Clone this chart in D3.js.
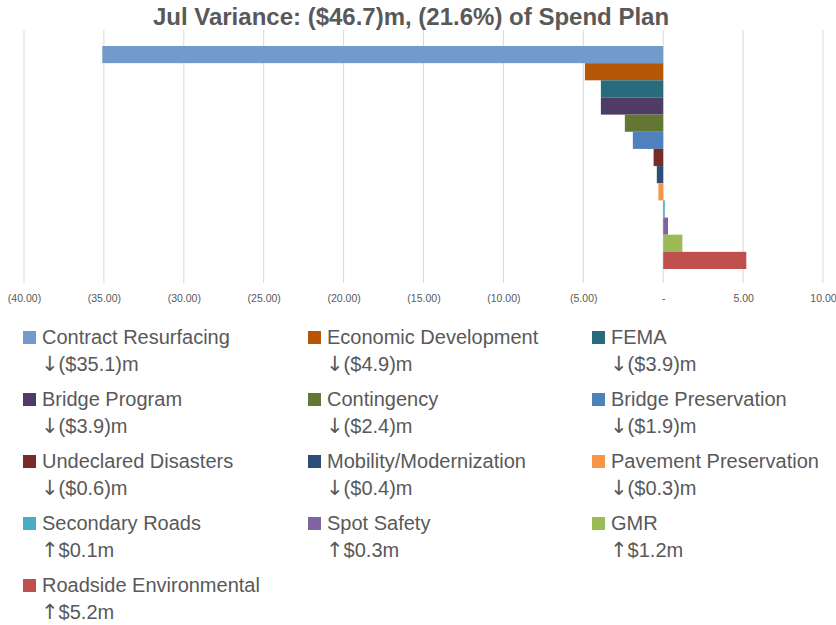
<!DOCTYPE html>
<html>
<head>
<meta charset="utf-8">
<script src="https://cdn.jsdelivr.net/npm/d3@7"></script>
<style>
  html, body { margin: 0; padding: 0; background: #fff; }
  svg { display: block; }
</style>
</head>
<body>
<svg id="chart" width="836" height="625"></svg>
<script>
// Program categories, top to bottom
const categories = [
  "Contract Resurfacing", "Economic Development", "FEMA",
  "Bridge Program", "Contingency", "Bridge Preservation",
  "Undeclared Disasters", "Mobility/Modernization", "Pavement Preservation",
  "Secondary Roads", "Spot Safety", "GMR",
  "Roadside Environmental"
];
// July variance against spend plan, $ millions
const variance = [-35.1, -4.9, -3.9, -3.9, -2.4, -1.9, -0.6, -0.4, -0.3, 0.1, 0.3, 1.2, 5.2];
const colors = [
  "#729ACB", "#B65708", "#276B7C",
  "#4E3C64", "#637633", "#4F81BD",
  "#772C2A", "#2C4D75", "#F79646",
  "#4BACC6", "#8064A2", "#9BBB59",
  "#C0504D"
];
const tickValues = [-40, -35, -30, -25, -20, -15, -10, -5, 0, 5, 10];
const titleText = "Jul Variance: ($46.7)m, (21.6%) of Spend Plan";

const svg = d3.select("#chart");
const textColor = "#595959";

// Title
svg.append("text")
  .attr("x", 411).attr("y", 25)
  .attr("text-anchor", "middle")
  .attr("font-family", "'Liberation Sans', Arial, sans-serif")
  .attr("font-weight", "bold")
  .attr("font-size", 24)
  .attr("fill", textColor)
  .text(titleText);

// Scales
const x = d3.scaleLinear().domain([-40, 10]).range([24, 823]);
const y = d3.scaleBand().domain(categories).range([46, 269]).padding(0);

// Gridlines
const plotTop = 30, plotBottom = 283;
svg.append("g")
  .selectAll("line")
  .data(tickValues)
  .join("line")
  .attr("x1", d => x(d)).attr("x2", d => x(d))
  .attr("y1", plotTop).attr("y2", plotBottom)
  .attr("stroke", "#D9D9D9")
  .attr("stroke-width", 1);

// Bars
svg.append("g")
  .selectAll("rect")
  .data(categories)
  .join("rect")
  .attr("x", (d, i) => Math.min(x(0), x(variance[i])))
  .attr("width", (d, i) => Math.abs(x(variance[i]) - x(0)))
  .attr("y", d => y(d))
  .attr("height", y.bandwidth())
  .attr("fill", (d, i) => colors[i]);

// Tick labels (accounting format)
const fmtTick = v => v === 0 ? "-" : (v < 0 ? "(" + d3.format(".2f")(-v) + ")" : d3.format(".2f")(v));
const axis = d3.axisBottom(x).tickValues(tickValues).tickSize(0).tickFormat(fmtTick);
const axisG = svg.append("g")
  .attr("transform", `translate(0, ${plotBottom})`)
  .call(axis);
axisG.select(".domain").remove();
axisG.selectAll("text")
  .attr("dy", 0)
  .attr("y", 19)
  .attr("fill", textColor)
  .attr("font-family", "'Liberation Sans', Arial, sans-serif")
  .attr("font-size", 10.5);

// Legend: three columns, name plus arrow and value
const arrowOf = v => v < 0 ? "\u2193" : "\u2191";
const fmtVal = v => v < 0 ? "($" + d3.format(".1f")(-v) + ")m" : "$" + d3.format(".1f")(v) + "m";
const colX = [23, 308, 592];
const rowY = [331, 393, 455, 517, 579];
const legend = svg.append("g")
  .attr("font-family", "'Liberation Sans', Arial, sans-serif")
  .attr("font-size", 20)
  .attr("fill", textColor);
const items = legend.selectAll("g")
  .data(categories)
  .join("g")
  .attr("transform", (d, i) => `translate(${colX[i % 3]}, ${rowY[Math.floor(i / 3)]})`);
items.append("rect")
  .attr("x", 0).attr("y", 0)
  .attr("width", 13).attr("height", 13)
  .attr("fill", (d, i) => colors[i]);
items.append("text")
  .attr("x", 19).attr("y", 13)
  .text(d => d);
const valText = items.append("text")
  .attr("x", 18).attr("y", 40);
valText.append("tspan")
  .attr("font-family", "'DejaVu Sans', sans-serif")
  .attr("font-size", 21)
  .text((d, i) => arrowOf(variance[i]));
valText.append("tspan")
  .attr("dx", 0)
  .text((d, i) => fmtVal(variance[i]));
</script>
</body>
</html>
